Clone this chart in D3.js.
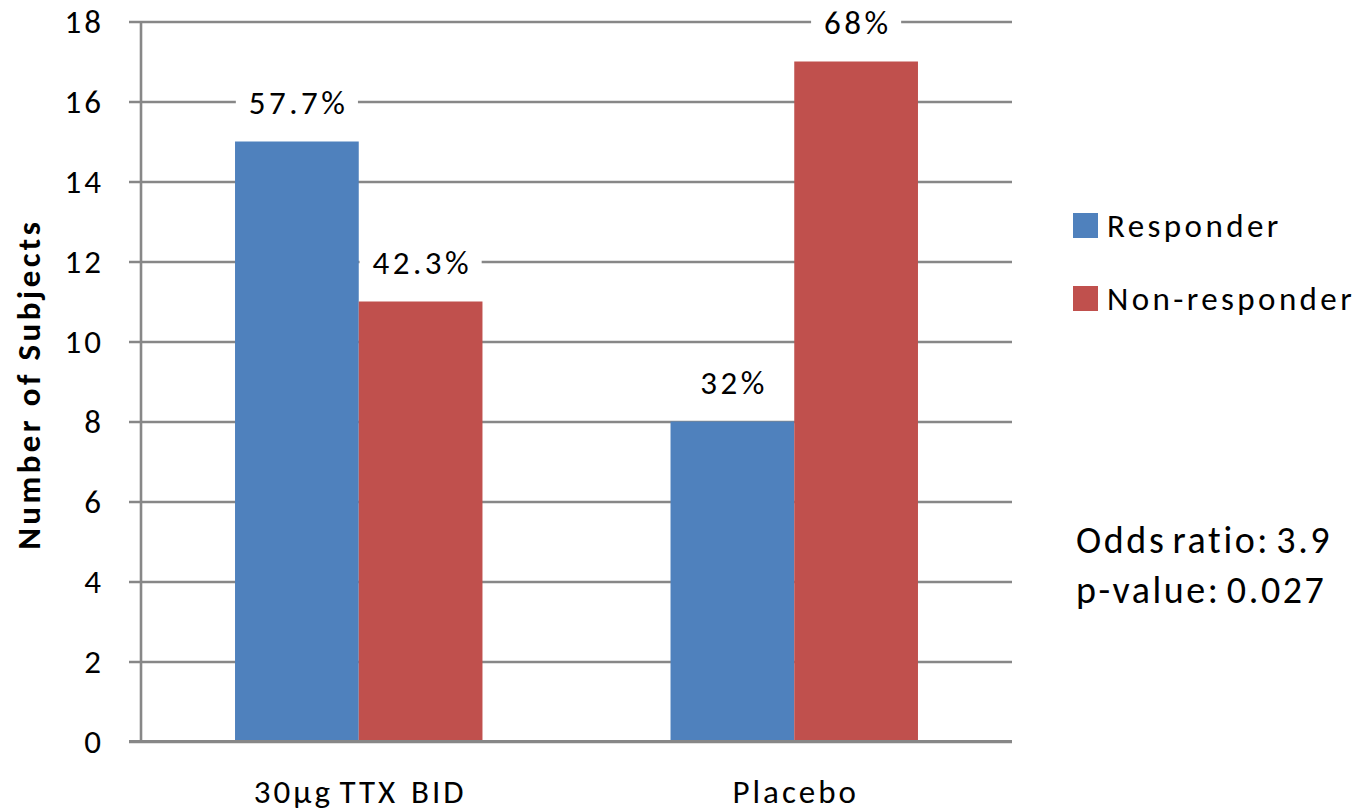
<!DOCTYPE html>
<html>
<head>
<meta charset="utf-8">
<script src="https://cdn.jsdelivr.net/npm/d3@7"></script>
<style>
  html, body { margin: 0; padding: 0; background: #fff; }
  svg { display: block; }
  text { font-family: Calibri, Carlito, Lato, "Open Sans", sans-serif; fill: #000; }
</style>
</head>
<body>
<svg id="chart" width="1357" height="812"></svg>
<script>
// Trial groups and subject counts per outcome
const categories = ["30µg TTX  BID", "Placebo"];
const seriesNames = ["Responder", "Non-responder"];
const responder = [15, 8];
const nonResponder = [11, 17];
const responderPct = ["57.7%", "32%"];
const nonResponderPct = ["42.3%", "68%"];
const yTicks = [0, 2, 4, 6, 8, 10, 12, 14, 16, 18];
const statLines = ["Odds ratio: 3.9", "p-value: 0.027"];

const colors = { "Responder": "#4F81BD", "Non-responder": "#C0504D" };
const gridColor = "#878787";

const svg = d3.select("#chart");
const plot = { left: 141, right: 1012, top: 21.5, bottom: 741.5 };

const y = d3.scaleLinear().domain([0, 18]).range([plot.bottom, plot.top]);
const x0 = d3.scaleBand().domain(categories).range([plot.left, plot.right]).paddingInner(0).paddingOuter(0);
const x1 = d3.scaleBand().domain(seriesNames).range([0, x0.bandwidth()]).paddingInner(0).paddingOuter(0.76);

const rows = categories.map((c, i) => ({
  category: c,
  values: [
    { series: "Responder", value: responder[i], label: responderPct[i] },
    { series: "Non-responder", value: nonResponder[i], label: nonResponderPct[i] }
  ]
}));

// Horizontal gridlines with short tick stubs left of the axis
const yAxis = d3.axisLeft(y).tickValues(yTicks).tickSize(-(plot.right - plot.left)).tickFormat("");
const gAxis = svg.append("g").attr("transform", `translate(${plot.left},0)`).call(yAxis);
gAxis.select(".domain").remove();
gAxis.selectAll(".tick line")
  .attr("x1", -12)
  .attr("stroke", gridColor)
  .attr("stroke-width", 2.6);

// Tick labels
svg.append("g").selectAll("text")
  .data(yTicks)
  .join("text")
  .attr("x", 104)
  .attr("y", d => y(d))
  .attr("dy", "0.36em")
  .attr("text-anchor", "end")
  .style("font-size", "33px")
  .style("letter-spacing", "3px")
  .text(d => d);

// Vertical axis line
svg.append("line")
  .attr("x1", plot.left).attr("x2", plot.left)
  .attr("y1", y(18)).attr("y2", y(0))
  .attr("stroke", gridColor).attr("stroke-width", 2.6);

// Bars
const groups = svg.append("g").selectAll("g")
  .data(rows)
  .join("g")
  .attr("transform", d => `translate(${x0(d.category)},0)`);

groups.selectAll("rect")
  .data(d => d.values)
  .join("rect")
  .attr("x", d => x1(d.series))
  .attr("y", d => y(d.value))
  .attr("width", x1.bandwidth())
  .attr("height", d => y(0) - y(d.value))
  .attr("fill", d => colors[d.series]);

// Baseline drawn over the bars
svg.append("line")
  .attr("x1", plot.left - 12).attr("x2", plot.right)
  .attr("y1", y(0)).attr("y2", y(0))
  .attr("stroke", gridColor).attr("stroke-width", 2.8);

// Percentage labels on white boxes above each bar
const labelSpacing = 3.5;
const labels = groups.selectAll("g.lbl")
  .data(d => d.values)
  .join("g")
  .attr("class", "lbl")
  .attr("transform", d => `translate(${x1(d.series) + x1.bandwidth() / 2},${y(d.value) - 27.5})`);

labels.append("rect").attr("fill", "#fff");
labels.append("text")
  .attr("text-anchor", "middle")
  .attr("dx", labelSpacing / 2)
  .style("font-size", "33px")
  .style("letter-spacing", labelSpacing + "px")
  .text(d => d.label);
labels.each(function () {
  const g = d3.select(this);
  const w = g.select("text").node().getComputedTextLength() - labelSpacing;
  g.select("rect")
    .attr("x", -w / 2 - 13)
    .attr("width", w + 26)
    .attr("y", -30)
    .attr("height", 38);
});

// Category labels
svg.append("g").selectAll("text")
  .data(categories)
  .join("text")
  .attr("x", d => x0(d) + x0.bandwidth() / 2)
  .attr("y", 803)
  .attr("dx", 1.5)
  .attr("text-anchor", "middle")
  .style("font-size", "33px")
  .style("letter-spacing", "3px")
  .style("word-spacing", "-4px")
  .style("white-space", "pre")
  .text(d => d);

// Y axis title
svg.append("text")
  .attr("transform", "translate(40,386) rotate(-90)")
  .attr("text-anchor", "middle")
  .attr("dx", 1.7)
  .style("font-size", "33px")
  .style("font-weight", "bold")
  .style("letter-spacing", "3.4px")
  .text("Number of Subjects");

// Legend
const legend = svg.append("g").selectAll("g")
  .data(seriesNames)
  .join("g")
  .attr("transform", (d, i) => `translate(1073,${213 + i * 73})`);
legend.append("rect")
  .attr("width", 25).attr("height", 25)
  .attr("fill", d => colors[d]);
legend.append("text")
  .attr("x", 34)
  .attr("y", 24)
  .style("font-size", "33px")
  .style("letter-spacing", "3.4px")
  .text(d => d);

// Statistics note
svg.append("g").selectAll("text")
  .data(statLines)
  .join("text")
  .attr("x", 1076)
  .attr("y", (d, i) => 553 + i * 50)
  .style("font-size", "38px")
  .style("letter-spacing", "2.6px")
  .style("word-spacing", "-5px")
  .text(d => d);
</script>
</body>
</html>
